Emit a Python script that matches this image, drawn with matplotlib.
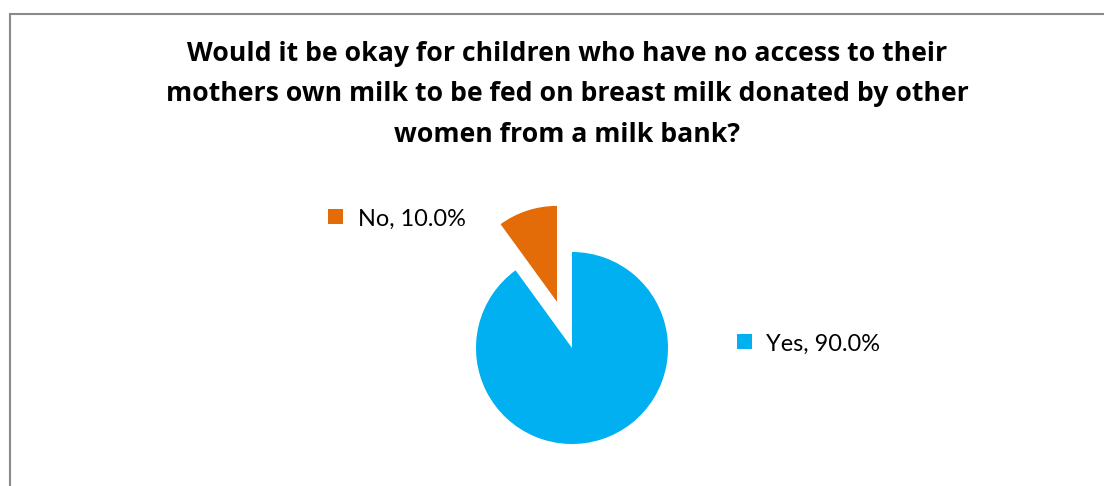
import matplotlib
matplotlib.use('Agg')
import matplotlib.pyplot as plt
from matplotlib.patches import Rectangle

title_lines = ['Would it be okay for children who have no access to their',
               'mothers own milk to be fed on breast milk donated by other',
               'women from a milk bank?']
labels = ['Yes', 'No']
shares = [90.0, 10.0]
colors = ['#00B0F0', '#E36C09']

W, H = 1104, 486
fig = plt.figure(figsize=(W / 100, H / 100), dpi=100)
ax = fig.add_axes([0, 0, 1, 1])
ax.axis('off')

# chart frame, cut off at the right and bottom
ax.add_patch(Rectangle((9.8, -20), W + 40, H - 13.8 + 20, fill=False,
                       edgecolor='#8a8a8a', linewidth=1.5))

# title, one baseline per line
for i, line in enumerate(title_lines):
    ax.text(567.5, H - (61 + 40.5 * i), line, ha='center', va='baseline',
            fontsize=19.2, fontweight='bold', family='Open Sans', color='black')

ax.pie(shares, colors=colors, startangle=90, counterclock=False,
       center=(572, H - 348), radius=96, explode=[0, 48.5],
       wedgeprops=dict(linewidth=0))
ax.set_xlim(0, W)
ax.set_ylim(0, H)
ax.set_aspect('equal')

# data labels with legend keys
label_pos = {'No': (335.5, H - 216.7), 'Yes': (744.5, H - 341.7)}
for lab, val, col in zip(labels, shares, colors):
    x, y = label_pos[lab]
    ax.add_patch(Rectangle((x - 7.2, y - 7.2), 14.4, 14.4, color=col, linewidth=0))
    ax.text(x + 22, y - 9, f'{lab}, {val:.1f}%', ha='left', va='baseline',
            fontsize=16.9, family='Lato', color='black')

fig.savefig('out.png', dpi=100)
